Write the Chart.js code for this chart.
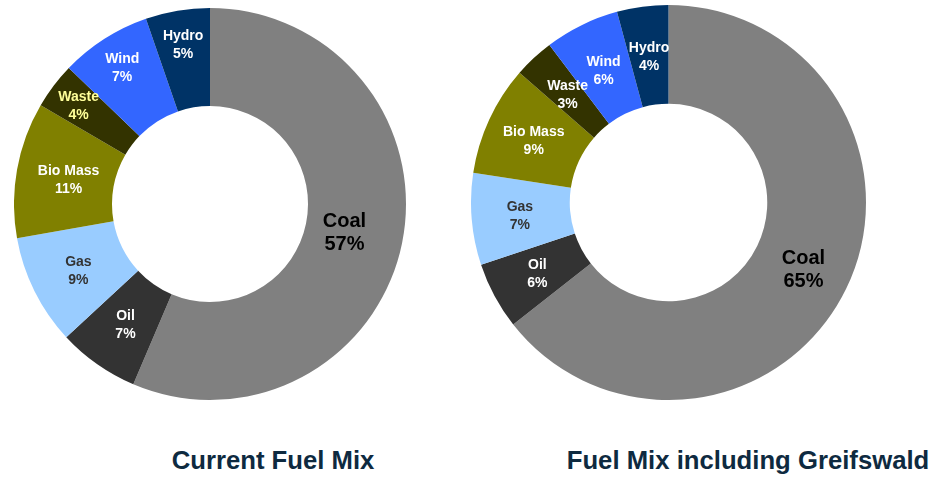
<!DOCTYPE html>
<html>
<head>
<meta charset="utf-8">
<script src="https://cdn.jsdelivr.net/npm/chart.js@4"></script>
<style>
  html, body { margin: 0; padding: 0; background: #fff; }
  body { width: 939px; height: 479px; position: relative; overflow: hidden; font-family: "Liberation Sans", Arial, sans-serif; }
  .pie { position: absolute; }
  .title { position: absolute; top: 446px; font-weight: bold; font-size: 25.7px; color: #0e2a40; white-space: nowrap; transform: translateX(-50%); }
</style>
</head>
<body>
<div class="pie" style="left:14px;top:8px;width:392px;height:392px"><canvas id="currentChart"></canvas></div>
<div class="pie" style="left:471px;top:5px;width:395px;height:395px"><canvas id="greifswaldChart"></canvas></div>
<div class="title" style="left:273px">Current Fuel Mix</div>
<div class="title" style="left:748px">Fuel Mix including Greifswald</div>
<script>
// Fuel categories, clockwise from 12 o'clock
const fuels = ['Coal', 'Oil', 'Gas', 'Bio Mass', 'Waste', 'Wind', 'Hydro'];

// slice shares (as drawn) and the rounded percentages printed on them
const currentShares = [56.4, 6.7, 9.1, 11.2, 3.8, 7.5, 5.3];
const currentLabels = ['57%', '7%', '9%', '11%', '4%', '7%', '5%'];
const greifswaldShares = [64.4, 5.5, 7.5, 9.0, 3.3, 6.1, 4.2];
const greifswaldLabels = ['65%', '6%', '7%', '9%', '3%', '6%', '4%'];

const sliceColors = ['#808080', '#333333', '#99ccff', '#808000', '#333300', '#3366ff', '#003366'];

// Draws "name / value%" inside each slice
const sliceLabels = {
  id: 'sliceLabels',
  afterDatasetsDraw(chart, args, opts) {
    const ctx = chart.ctx;
    const meta = chart.getDatasetMeta(0);
    ctx.save();
    ctx.textAlign = 'center';
    ctx.textBaseline = 'alphabetic';
    meta.data.forEach((arc, i) => {
      const mid = (arc.startAngle + arc.endAngle) / 2;
      const r = arc.outerRadius * opts.radius[i];
      const x = arc.x + Math.cos(mid) * r;
      const y = arc.y + Math.sin(mid) * r;
      const big = i === 0;
      const size = big ? 20 : 14;
      const gap = big ? 23.5 : 18;
      const capHalf = size * 0.36;
      ctx.font = 'bold ' + size + 'px "Liberation Sans", Arial, sans-serif';
      ctx.fillStyle = opts.colors[i];
      ctx.fillText(chart.data.labels[i], x, y - gap / 2 + capHalf);
      ctx.fillText(opts.text[i], x, y + gap / 2 + capHalf);
    });
    ctx.restore();
  }
};

function makeDonut(id, values, pctText, labelRadius, labelColors) {
  const ctx = document.getElementById(id).getContext('2d');
  return new Chart(ctx, {
    type: 'doughnut',
    data: {
      labels: fuels,
      datasets: [{
        data: values,
        backgroundColor: sliceColors,
        borderWidth: 0,
      }]
    },
    options: {
      responsive: true,
      maintainAspectRatio: false,
      animation: false,
      cutout: '50%',
      layout: { padding: 0 },
      plugins: {
        legend: { display: false },
        tooltip: { enabled: false },
        sliceLabels: { radius: labelRadius, colors: labelColors, text: pctText }
      }
    },
    plugins: [sliceLabels]
  });
}

makeDonut('currentChart', currentShares, currentLabels,
  [0.70, 0.75, 0.75, 0.733, 0.84, 0.832, 0.828],
  ['#000000', '#ffffff', '#333333', '#ffffff', '#ffff99', '#ffffff', '#ffffff']);

makeDonut('greifswaldChart', greifswaldShares, greifswaldLabels,
  [0.76, 0.754, 0.755, 0.752, 0.749, 0.748, 0.747],
  ['#000000', '#ffffff', '#333333', '#ffffff', '#ffffff', '#ffffff', '#ffffff']);
</script>
</body>
</html>
